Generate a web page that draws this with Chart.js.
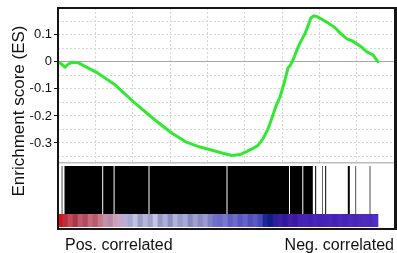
<!DOCTYPE html>
<html>
<head>
<meta charset="utf-8">
<script src="https://cdn.jsdelivr.net/npm/chart.js@4.4.1/dist/chart.umd.min.js"></script>
<style>
  html,body{margin:0;padding:0;background:#fff}
  #wrap{position:relative;width:397px;height:253px;overflow:hidden;font-family:"Liberation Sans",Arial,sans-serif}
  #c-es{position:absolute;left:0;top:0}
  #c-hits{position:absolute;left:0;top:164px}
  #frame{position:absolute;left:57px;top:7px;width:340px;height:223px;box-sizing:border-box;border:2px solid #151515;border-right-width:3px;pointer-events:none}
  #ylab{position:absolute;left:18px;top:111px;transform:translate(-50%,-50%) rotate(-90deg);font-size:17px;line-height:17px;white-space:nowrap;color:#111}
</style>
</head>
<body>
<div id="wrap">
  <canvas id="c-es" width="397" height="164"></canvas>
  <canvas id="c-hits" width="397" height="89"></canvas>
  <div id="frame"></div>
  <div id="ylab">Enrichment score (ES)</div>
</div>
<script>
// ranked list
const LIST_SIZE = 20780;
const X_MAX = 21820;
const X_GRID_STEP = 2500;

// running enrichment score
const esRanks  = [0, 195, 455, 649, 909, 1299, 1753, 2598, 3702, 5000, 6299, 7403, 8377, 9221, 10066, 10650, 11300, 11819, 12274, 12663, 12988, 13313, 13638, 13898, 14158, 14417, 14742, 14937, 15066, 15261, 15521, 15715, 16040, 16235, 16430, 16625, 16820, 17080, 17534, 17989, 18314, 18768, 19093, 19612, 20067, 20456, 20780];
const esValues = [0, -0.007, -0.020, -0.009, -0.002, -0.003, -0.017, -0.042, -0.085, -0.153, -0.215, -0.264, -0.298, -0.315, -0.328, -0.337, -0.346, -0.343, -0.331, -0.320, -0.309, -0.285, -0.248, -0.207, -0.163, -0.130, -0.067, -0.022, -0.015, 0.007, 0.044, 0.070, 0.104, 0.133, 0.163, 0.170, 0.167, 0.159, 0.144, 0.126, 0.107, 0.085, 0.078, 0.059, 0.037, 0.026, 0];

// y ticks
const ES_MIN = -0.374, ES_MAX = 0.199, ES_STEP = 0.05;

// gene set hits (runs of ranks)
const hitStart = [240, 422, 2935, 3676, 5942, 11007, 15066, 15930, 16700, 17160, 17350, 18820, 19315, 20240];
const hitEnd   = [285, 2870, 3611, 5877, 10942, 15001, 15865, 16547, 16765, 17200, 17415, 18950, 19360, 20285];

// ranked metric colour stripes (equal bins over the list)
const stripeColors = [
  '#d61414','#b8303c','#c44a5a','#a83848','#c05a6a','#b04a5e','#c4687c','#b85a70',
  '#c87888','#c490a8','#b888a8','#cca0b8','#c8a8c8','#b8b0d4','#a8a8d0','#c0c0e0',
  '#9c9cc8','#b4b4dc','#a0a0cc','#c4c4e4','#9898c4','#aeaed8','#8e8ec0','#b0b0d8',
  '#9a9acc','#a8a8d4','#8888c0','#a0a0d0','#8a8ac4','#9a9ad0','#8080c4','#7070c8',
  '#6a6ac8','#7878d0','#6060c4','#6c6cc8','#5858c0','#6464c8','#5050bc','#5a5ac4',
  '#4848b8','#1c2896','#101c84','#2a2098','#3a20a0','#30189a','#4020a8','#3a1ca4',
  '#4622b4','#4824b6','#4420b2','#4a26b8','#4622b4','#4824b6','#4a26b8','#4622b4',
  '#4a28b8','#4824b6','#4c2aba','#4a26b8','#4c2aba','#4e2cbc','#4c2aba','#5030c0'
];

// bottom labels
const edgeLabels = ['Pos. correlated', 'Neg. correlated'];
const edgeLabelRanks = [455, X_MAX];

Chart.defaults.font.family = '"Liberation Sans", Arial, sans-serif';
Chart.defaults.color = '#111';

const isLabelled = v => Math.abs(Math.round(v / ES_STEP)) % 2 === 0;
const isZero = v => Math.abs(v) < 1e-9;

// ══ ES curve ══
new Chart(document.getElementById('c-es'), {
  type: 'line',
  data: {
    datasets: [{
      data: esRanks.map((r, i) => ({x: r, y: esValues[i]})),
      borderColor: '#33e833', borderWidth: 3, pointRadius: 0, tension: 0,
      borderJoinStyle: 'round', borderCapStyle: 'round', fill: false
    }]
  },
  options: {
    responsive: false, animation: false, devicePixelRatio: 1,
    layout: {padding: {left: 0, right: 3, top: 8, bottom: 1}},
    plugins: {legend: {display: false}, tooltip: {enabled: false}},
    scales: {
      x: {
        type: 'linear', min: 0, max: X_MAX,
        ticks: {display: false, stepSize: X_GRID_STEP, includeBounds: false, autoSkip: false},
        grid: {color: '#d6d6d6', lineWidth: 1, drawTicks: false},
        border: {display: true, color: '#bdbdbd', width: 1.5, dash: [2, 2]},
        afterFit: s => { s.height = 0; s.paddingLeft = 0; s.paddingRight = 0; }
      },
      y: {
        type: 'linear', min: ES_MIN, max: ES_MAX,
        ticks: {
          stepSize: ES_STEP, includeBounds: false, autoSkip: false, padding: 2, color: '#111', font: {size: 13},
          callback: v => {
            if (!isLabelled(v)) return '';
            const t = Math.round(v * 10) / 10;
            return t === 0 ? '0' : t.toFixed(1);
          }
        },
        grid: {
          color: ctx => ctx.tick && isZero(ctx.tick.value) ? '#a6a6a6' : '#d6d6d6',
          lineWidth: 1, tickLength: 4, tickWidth: 1,
          tickColor: ctx => ctx.tick && isLabelled(ctx.tick.value) ? '#111' : 'rgba(0,0,0,0)'
        },
        border: {display: false, dash: ctx => ctx.tick && isZero(ctx.tick.value) ? [] : [2, 2]},
        afterFit: s => { s.width = 58; s.paddingTop = 0; s.paddingBottom = 0; }
      }
    }
  }
});

// ══ hits + ranked metric bar ══
const binSize = LIST_SIZE / stripeColors.length;
new Chart(document.getElementById('c-hits'), {
  type: 'bar',
  data: {
    datasets: [
      {
        data: hitStart.map((s, i) => ({x: [s, hitEnd[i]], y: 0.5})),
        yAxisID: 'yHit', indexAxis: 'y', grouped: false,
        backgroundColor: '#000', borderWidth: 0, inflateAmount: 0,
        barPercentage: 1, categoryPercentage: 1
      },
      {
        data: stripeColors.map((c, i) => ({x: [i * binSize, (i + 1) * binSize], y: 0.5})),
        yAxisID: 'yBar', indexAxis: 'y', grouped: false,
        backgroundColor: stripeColors, borderWidth: 0,
        barPercentage: 1, categoryPercentage: 1
      }
    ]
  },
  options: {
    indexAxis: 'y',
    responsive: false, animation: false, devicePixelRatio: 1,
    layout: {padding: {left: 58, right: 3, top: 2, bottom: 0}},
    plugins: {legend: {display: false}, tooltip: {enabled: false}},
    scales: {
      x: {
        type: 'linear', min: 0, max: X_MAX, position: 'bottom',
        afterBuildTicks: s => { s.ticks = edgeLabelRanks.map(v => ({value: v})); },
        ticks: {
          callback: (v, i) => edgeLabels[i], align: 'inner', padding: 9,
          autoSkip: false, maxRotation: 0, color: '#111', font: {size: 16}
        },
        grid: {display: false, drawTicks: false},
        border: {display: false},
        afterFit: s => { s.height = 26; s.paddingLeft = 0; s.paddingRight = 0; }
      },
      yBar: {
        type: 'linear', min: 0, max: 1, position: 'left', offset: false,
        stack: 'bands', stackWeight: 13, weight: 1, display: false,
        afterBuildTicks: s => { s.ticks = [{value: 0}, {value: 1}]; }
      },
      yHit: {
        type: 'linear', min: 0, max: 1, position: 'left', offset: false,
        stack: 'bands', stackWeight: 48, weight: 2, display: false,
        afterBuildTicks: s => { s.ticks = [{value: 0}, {value: 1}]; }
      }
    }
  }
});
</script>
</body>
</html>
